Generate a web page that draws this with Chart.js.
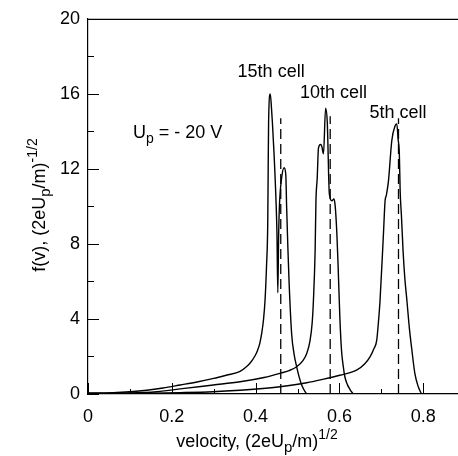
<!DOCTYPE html>
<html>
<head>
<meta charset="utf-8">
<script src="https://cdn.jsdelivr.net/npm/chart.js@4.4.1/dist/chart.umd.min.js"></script>
<style>
  html, body { margin: 0; padding: 0; background: #fff; }
  #wrap { width: 458px; height: 456px; position: relative; }
</style>
</head>
<body>
<div id="wrap"><canvas id="c" width="458" height="456"></canvas></div>
<script>
// ---- data (velocity, f(v)) ----
const cell15V = [0.00,0.06,0.10,0.14,0.179,0.22,0.26,0.30,0.33,0.363,0.378,0.387,0.399,0.405,0.41,0.415,0.419,0.4225,0.426,0.429,0.430,0.431,0.435,0.438,0.440,0.444,0.449,0.451,0.453,0.455,0.457,0.462,0.468,0.472,0.474,0.477,0.480,0.486,0.492,0.498,0.504,0.51,0.516,0.522];
const cell15F = [0.05,0.07,0.12,0.2,0.32,0.48,0.64,0.83,1.0,1.2,1.45,1.65,2.05,2.35,2.7,3.3,4.0,5.0,6.8,9.2,12.0,14.5,16.0,15.2,14.5,12.8,10.1,8.5,5.4,8.5,10.1,11.5,12.06,11.7,10.0,7.8,5.9,3.2,2.1,1.45,0.9,0.48,0.2,0.0];

const cell10V = [0.00,0.10,0.164,0.23,0.299,0.363,0.42,0.458,0.48,0.498,0.512,0.522,0.53,0.535,0.538,0.542,0.544,0.547,0.550,0.555,0.558,0.562,0.567,0.571,0.576,0.582,0.587,0.590,0.594,0.597,0.601,0.605,0.609,0.613,0.619,0.625,0.633];
const cell10F = [0.03,0.05,0.12,0.3,0.48,0.65,0.88,1.1,1.25,1.45,1.75,2.16,2.86,3.8,5.0,7.6,10.3,11.5,13.1,13.3,13.2,12.8,15.24,14.5,10.66,10.3,10.4,10.0,8.5,6.75,4.1,2.33,1.5,0.92,0.5,0.25,0.0];

const cell5V = [0.00,0.15,0.22,0.298,0.363,0.41,0.458,0.522,0.56,0.601,0.641,0.66,0.673,0.682,0.689,0.693,0.697,0.705,0.709,0.712,0.717,0.725,0.733,0.737,0.740,0.743,0.745,0.748,0.752,0.756,0.761,0.767,0.773,0.780,0.788,0.796];
const cell5F = [0.02,0.04,0.07,0.12,0.2,0.28,0.39,0.6,0.78,1.0,1.27,1.6,1.98,2.4,2.86,3.8,5.0,8.5,10.3,10.6,11.35,13.5,14.3,14.4,13.6,12.8,10.8,9.5,7.6,6.2,5.0,3.5,2.33,1.1,0.4,0.0];

// dashed reference lines: velocity and height
const dashedV = [0.46, 0.578, 0.741];
const dashedTop = [14.7, 14.8, 14.7];

// labels near the peaks (velocity centre, f at baseline)
const cellLabels = ["15th cell", "10th cell", "5th cell"];
const cellLabelV = [0.437, 0.586, 0.740];
const cellLabelF = [16.9, 15.8, 14.7];

// axis ticks
const xTickStep = 0.2;
const xMinorStep = 0.1;
const yTickStep = 4;
const yMinorStep = 2;
const xMin = 0, xMax = 0.883, yMin = 0, yMax = 20;

function pts(vs, fs) { return vs.map((v, i) => ({ x: v, y: fs[i] })); }

const FONT = '"Liberation Sans", Arial, Helvetica, sans-serif';

const datasets = [
  { data: pts(cell15V, cell15F) },
  { data: pts(cell10V, cell10F) },
  { data: pts(cell5V, cell5F) }
].map(d => Object.assign(d, { borderColor: '#000', borderWidth: 1.4, pointRadius: 0, fill: false, cubicInterpolationMode: 'monotone' }));

dashedV.forEach((v, i) => {
  datasets.push({
    data: [{ x: v, y: 0 }, { x: v, y: dashedTop[i] }],
    borderColor: '#000', borderWidth: 1.3, borderDash: [10, 5], pointRadius: 0, fill: false
  });
});

// rich text: segments [text, size, dy]
function drawRich(ctx, segs, x, y, align) {
  let total = 0;
  segs.forEach(s => { ctx.font = s[1] + 'px ' + FONT; total += ctx.measureText(s[0]).width; });
  let cx = align === 'center' ? x - total / 2 : x;
  ctx.textBaseline = 'alphabetic';
  ctx.textAlign = 'left';
  segs.forEach(s => {
    ctx.font = s[1] + 'px ' + FONT;
    ctx.fillText(s[0], cx, y + s[2]);
    cx += ctx.measureText(s[0]).width;
  });
}

const decor = {
  id: 'decor',
  afterDraw(chart) {
    const ctx = chart.ctx;
    const xs = chart.scales.x, ys = chart.scales.y;
    const a = chart.chartArea;
    ctx.save();
    ctx.strokeStyle = '#000';
    ctx.fillStyle = '#000';
    ctx.lineWidth = 1.2;
    // top frame line
    ctx.beginPath();
    ctx.moveTo(a.left, a.top + 0.5);
    ctx.lineTo(a.right, a.top + 0.5);
    ctx.stroke();
    // inward y ticks
    ctx.lineWidth = 1;
    for (let v = yMin; v <= yMax + 1e-9; v += yMinorStep) {
      const py = Math.round(ys.getPixelForValue(v)) + 0.5;
      const len = (Math.abs(v / yTickStep - Math.round(v / yTickStep)) < 1e-6) ? 11 : 6;
      ctx.beginPath(); ctx.moveTo(a.left, py); ctx.lineTo(a.left + len, py); ctx.stroke();
    }
    // inward x ticks
    for (let v = xMin; v <= xMax + 1e-9; v += xMinorStep) {
      const px = Math.round(xs.getPixelForValue(v)) + 0.5;
      const len = (Math.abs(v / xTickStep - Math.round(v / xTickStep)) < 1e-6) ? 11 : 5;
      ctx.beginPath(); ctx.moveTo(px, a.bottom); ctx.lineTo(px, a.bottom - len); ctx.stroke();
    }
    // cell labels
    ctx.font = '18px ' + FONT;
    ctx.textAlign = 'center';
    ctx.textBaseline = 'alphabetic';
    cellLabels.forEach((t, i) => {
      ctx.fillText(t, xs.getPixelForValue(cellLabelV[i]), ys.getPixelForValue(cellLabelF[i]));
    });
    // U_p = - 20 V
    drawRich(ctx, [['U', 18, 0], ['p', 14, 5], [' = - 20 V', 18, 0]], 133, 138, 'left');
    // x title
    drawRich(ctx, [['velocity, (2eU', 18, 0], ['p', 15, 5], ['/m)', 18, 0], ['1/2', 14, -8]], 257, 447, 'center');
    // y title
    ctx.translate(45, 205);
    ctx.rotate(-Math.PI / 2);
    drawRich(ctx, [['f(v), (2eU', 18, 0], ['p', 15, 5], ['/m)', 18, 0], ['-1/2', 14, -8]], 0, 0, 'center');
    ctx.restore();
  }
};

new Chart(document.getElementById('c'), {
  type: 'line',
  data: { datasets },
  options: {
    responsive: false,
    animation: false,
    devicePixelRatio: 1,
    layout: { padding: { top: 17, right: 0, left: 0, bottom: 0 } },
    plugins: { legend: { display: false }, tooltip: { enabled: false } },
    scales: {
      x: {
        type: 'linear', min: xMin, max: xMax,
        grid: { display: false, drawTicks: false },
        border: { display: true, color: '#000', width: 1.2 },
        ticks: {
          stepSize: xTickStep, includeBounds: false, padding: 12, color: '#000', maxRotation: 0,
          font: { size: 18, family: FONT },
          callback: v => (Math.abs(v) < 1e-9 ? '0' : (+v).toFixed(1))
        },
        afterFit: s => { s.height = 62; }
      },
      y: {
        type: 'linear', min: yMin, max: yMax,
        grid: { display: false, drawTicks: false },
        border: { display: true, color: '#000', width: 1.2 },
        ticks: {
          stepSize: yMinorStep, padding: 8, color: '#000',
          font: { size: 18, family: FONT },
          callback: v => (v % yTickStep === 0 ? String(v) : '')
        },
        afterFit: s => { s.width = 88; }
      }
    }
  },
  plugins: [decor]
});
</script>
</body>
</html>
